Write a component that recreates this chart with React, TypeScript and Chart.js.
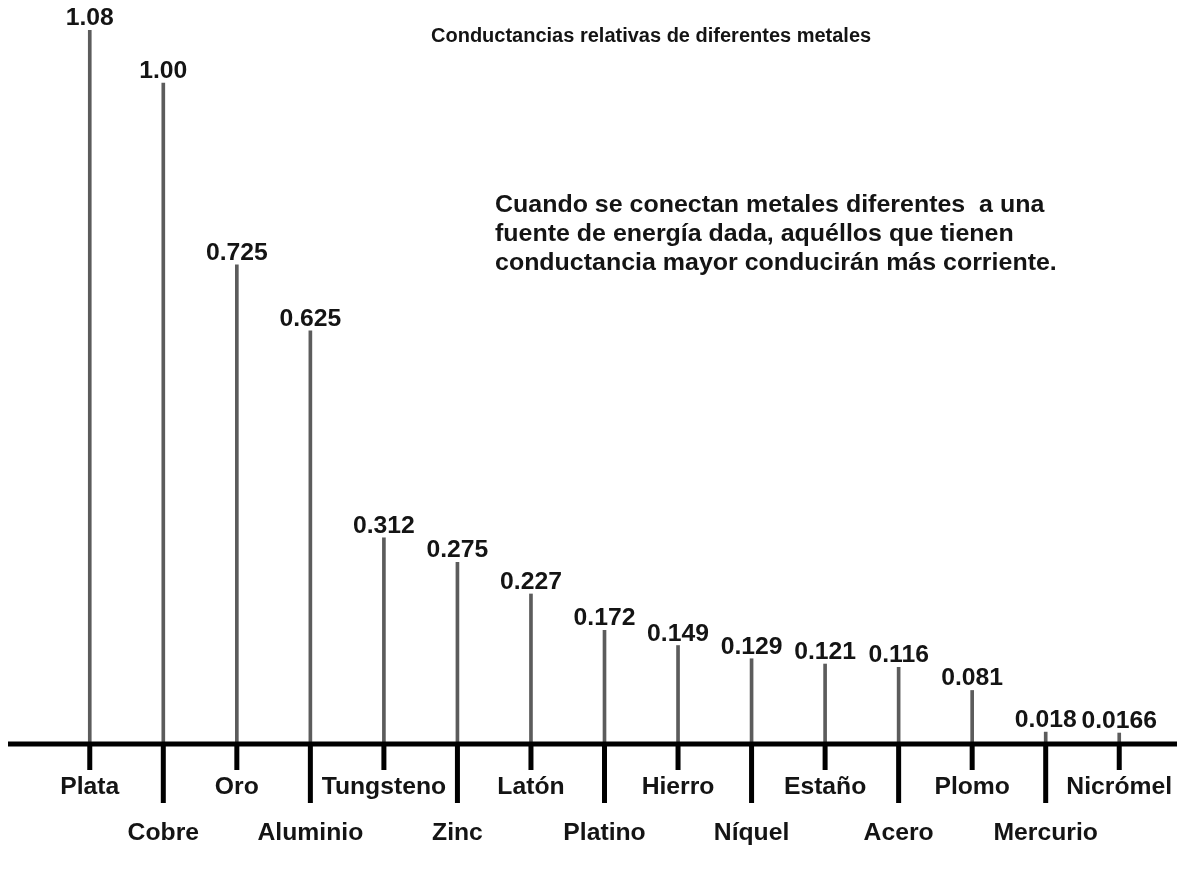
import React, { useEffect, useRef } from "react";
import { Chart, registerables } from "chart.js";

Chart.register(...registerables);

const metals = [
  "Plata", "Cobre", "Oro", "Aluminio", "Tungsteno", "Zinc", "Latón", "Platino",
  "Hierro", "Níquel", "Estaño", "Acero", "Plomo", "Mercurio", "Nicrómel",
];
const conductance = [
  1.08, 1.0, 0.725, 0.625, 0.312, 0.275, 0.227, 0.172, 0.149, 0.129, 0.121, 0.116, 0.081, 0.018, 0.0166,
];
const valueLabels = [
  "1.08", "1.00", "0.725", "0.625", "0.312", "0.275", "0.227", "0.172", "0.149", "0.129", "0.121", "0.116", "0.081", "0.018", "0.0166",
];
const titleText = "Conductancias relativas de diferentes metales";
const noteLines = [
  "Cuando se conectan metales diferentes  a una",
  "fuente de energía dada, aquéllos que tienen",
  "conductancia mayor conducirán más corriente.",
];

const FONT = '"Liberation Sans", Arial, sans-serif';
const TEXT_COLOR = "#141414";

function drawText(ctx: CanvasRenderingContext2D, text: string, x: number, y: number, align: CanvasTextAlign, stretch: number) {
  ctx.save();
  ctx.translate(x, y);
  ctx.scale(stretch, 1);
  ctx.textAlign = align;
  ctx.fillText(text, 0, 0);
  ctx.restore();
}

const decorPlugin = {
  id: "decor",
  afterDatasetsDraw(chart: any) {
    const ctx = chart.ctx as CanvasRenderingContext2D;
    const xs = chart.scales.x;
    const ys = chart.scales.y;
    const base = ys.getPixelForValue(0);
    ctx.save();
    // baseline
    ctx.fillStyle = "#000";
    ctx.fillRect(8, base - 2.5, chart.width - 8, 5);
    // ticks + category labels
    ctx.font = `bold 24px ${FONT}`;
    ctx.textBaseline = "alphabetic";
    metals.forEach((m, i) => {
      const x = xs.getPixelForValue(i);
      const low = i % 2 === 1;
      const len = low ? 59 : 26;
      ctx.fillStyle = "#000";
      ctx.fillRect(x - 2.5, base, 5, len);
      ctx.fillStyle = TEXT_COLOR;
      drawText(ctx, m, x, low ? base + 96 : base + 50, "center", 1.03);
    });
    // value labels
    const meta = chart.getDatasetMeta(0);
    meta.data.forEach((bar: any, i: number) => {
      drawText(ctx, valueLabels[i], bar.x, bar.y - 5, "center", 1.03);
    });
    // title
    ctx.font = `bold 20px ${FONT}`;
    drawText(ctx, titleText, 431, 42, "left", 1.0);
    // note
    ctx.font = `bold 24px ${FONT}`;
    noteLines.forEach((line, k) => {
      drawText(ctx, line, 495, 212 + k * 29, "left", 1.04);
    });
    ctx.restore();
  },
};

export default function App() {
  const ref = useRef<HTMLCanvasElement | null>(null);
  useEffect(() => {
    document.body.style.margin = "0";
    document.body.style.background = "#fff";
    const chart = new Chart(ref.current as HTMLCanvasElement, {
      type: "bar",
      data: {
        labels: metals,
        datasets: [
          {
            data: conductance,
            backgroundColor: "#5c5c5c",
            borderWidth: 0,
            barThickness: 3,
          },
        ],
      },
      options: {
        animation: false,
        responsive: false,
        layout: { padding: { left: 53, right: 21, top: 17, bottom: 127 } },
        plugins: { legend: { display: false }, tooltip: { enabled: false }, title: { display: false } },
        scales: {
          x: { display: false, offset: true, grid: { display: false } },
          y: { display: false, min: 0, max: 1.1 },
        },
      },
      plugins: [decorPlugin],
    });
    return () => chart.destroy();
  }, []);
  return (
    <div style={{ position: "absolute", left: 0, top: 0, width: 1177, height: 871, background: "#fff" }}>
      <canvas ref={ref} width={1177} height={871} />
    </div>
  );
}
